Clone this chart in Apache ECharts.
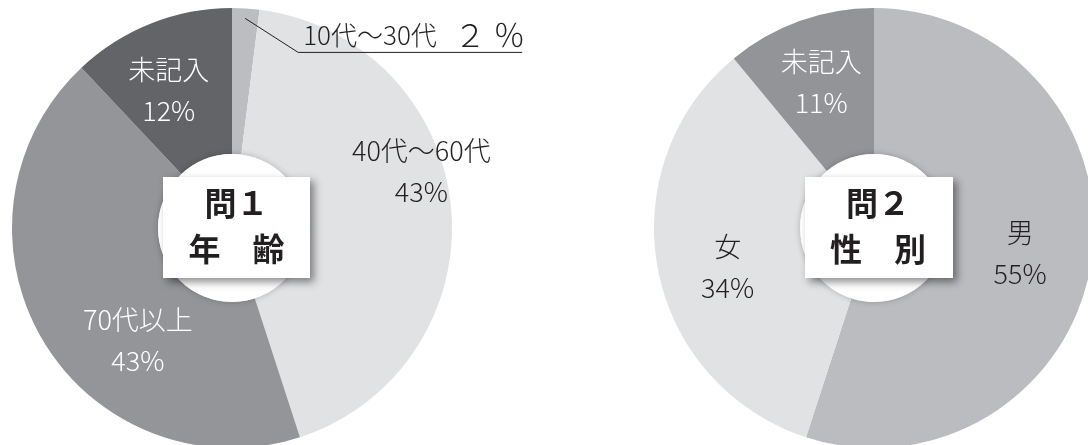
<!DOCTYPE html>
<html><head><meta charset="utf-8">
<script src="https://cdn.jsdelivr.net/npm/echarts@6/dist/echarts.min.js"></script>
<style>html,body{margin:0;padding:0;background:#fff}#c{width:1088px;height:445px}</style>
</head><body><div id="c"></div>
<script>
// ---- data ----
const ageCategories = ['10代〜30代', '40代〜60代', '70代以上', '未記入'];
const ageValues = [2, 43, 43, 12];
const genderCategories = ['男', '女', '未記入'];
const genderValues = [55, 34, 11];
const ageTitle = ['問１', '年　齢'];
const genderTitle = ['問２', '性　別'];

// ---- style ----
const FONT = '"Noto Sans CJK JP", "Noto Sans", sans-serif';
const DARK = '#231f20';
const ageColors = ['#bcbdc1', '#e1e2e4', '#949599', '#636467'];
const ageTextColors = [DARK, DARK, '#ffffff', '#ffffff'];
const genderColors = ['#bbbcc0', '#e1e2e4', '#939498'];
const genderTextColors = [DARK, DARK, '#ffffff'];
const ageLabelShift = [[0, 0], [40, -43], [35, 36], [-8, 2]];
const genderLabelShift = [[-2, 2], [1, 11], [-2, -5]];
const ageCenter = [232, 228];
const genderCenter = [874, 228];
const R_OUT = 220, R_IN = 74;

function fullWidth(s) {
  return String(s).replace(/[0-9]/g, d => String.fromCharCode(d.charCodeAt(0) + 0xFEE0));
}

const ageSum = ageValues.reduce((a, b) => a + b, 0);

// leader line for the small first slice: starts inside it at its mid angle
const leadAngle = (90 - (ageValues[0] / 2) / ageSum * 360) * Math.PI / 180;
const leadStart = [ageCenter[0] + (R_OUT - 10) * Math.cos(leadAngle),
                   ageCenter[1] - (R_OUT - 10) * Math.sin(leadAngle)];
const leadBend = [leadStart[0] + 53, leadStart[1] + 34];
const leadEnd = [leadBend[0] + 224, leadBend[1]];

const ageData = ageCategories.map((n, i) => {
  const item = {
    name: n, value: ageValues[i],
    itemStyle: { color: ageColors[i] },
    label: { color: ageTextColors[i] }
  };
  if (i === 0) {
    item.label = {
      position: 'outside', color: DARK, fontSize: 26, lineHeight: 30,
      formatter: p => p.name + '   {big|' + fullWidth(p.value) + ' ％}',
      rich: { big: { fontSize: 32, fontFamily: FONT, fontWeight: 300, color: DARK } }
    };
    item.labelLine = { show: false };
  }
  return item;
});
const genderData = genderCategories.map((n, i) => ({
  name: n, value: genderValues[i],
  itemStyle: { color: genderColors[i] },
  label: { color: genderTextColors[i] }
}));

const baseLabel = {
  show: true, position: 'inside', fontFamily: FONT, fontSize: 27, fontWeight: 300,
  lineHeight: 41, align: 'center', formatter: '{b}\n{c}%'
};

function box(center, rect, lines, tx) {
  return [
    { type: 'circle', z: 100, shape: { cx: center[0], cy: center[1], r: R_IN },
      style: { fill: '#ffffff', shadowBlur: 6, shadowColor: 'rgba(0,0,0,0.22)' } },
    { type: 'rect', z: 101, shape: { x: rect[0], y: rect[1], width: rect[2], height: rect[3] },
      style: { fill: '#ffffff', shadowBlur: 8, shadowOffsetX: 4, shadowOffsetY: 4, shadowColor: 'rgba(0,0,0,0.45)' } },
    { type: 'text', z: 102, x: tx[0], y: tx[1],
      style: { text: lines.join('\n'), fill: DARK, font: 'bold 32px ' + FONT,
        lineHeight: 46, align: 'center', verticalAlign: 'middle' } }
  ];
}

const chart = echarts.init(document.getElementById('c'), null, { renderer: 'canvas' });
chart.setOption({
  backgroundColor: '#ffffff',
  animation: false,
  series: [
    {
      type: 'pie', center: ageCenter, radius: [R_IN, R_OUT], startAngle: 90, clockwise: true,
      avoidLabelOverlap: false, silent: true,
      label: baseLabel, labelLine: { show: false },
      data: ageData,
      labelLayout: function (p) {
        if (p.dataIndex === 0) {
          return { x: leadBend[0] + 5, y: leadBend[1] - 17.5, align: 'left', verticalAlign: 'middle' };
        }
        const s = ageLabelShift[p.dataIndex];
        return { dx: s[0], dy: s[1] };
      }
    },
    {
      type: 'pie', center: genderCenter, radius: [R_IN, R_OUT], startAngle: 90, clockwise: true,
      avoidLabelOverlap: false, silent: true,
      label: baseLabel, labelLine: { show: false },
      data: genderData,
      labelLayout: function (p) {
        const s = genderLabelShift[p.dataIndex];
        return { dx: s[0], dy: s[1] };
      }
    }
  ],
  graphic: [].concat(
    [{ type: 'polyline', z: 100, shape: { points: [leadStart, leadBend, leadEnd] },
       style: { stroke: DARK, lineWidth: 1, fill: null } }],
    box(ageCenter, [163, 177, 147, 101], ageTitle, [236.5, 226]),
    box(genderCenter, [805, 177, 148, 101], genderTitle, [878, 226])
  )
});
</script></body></html>
